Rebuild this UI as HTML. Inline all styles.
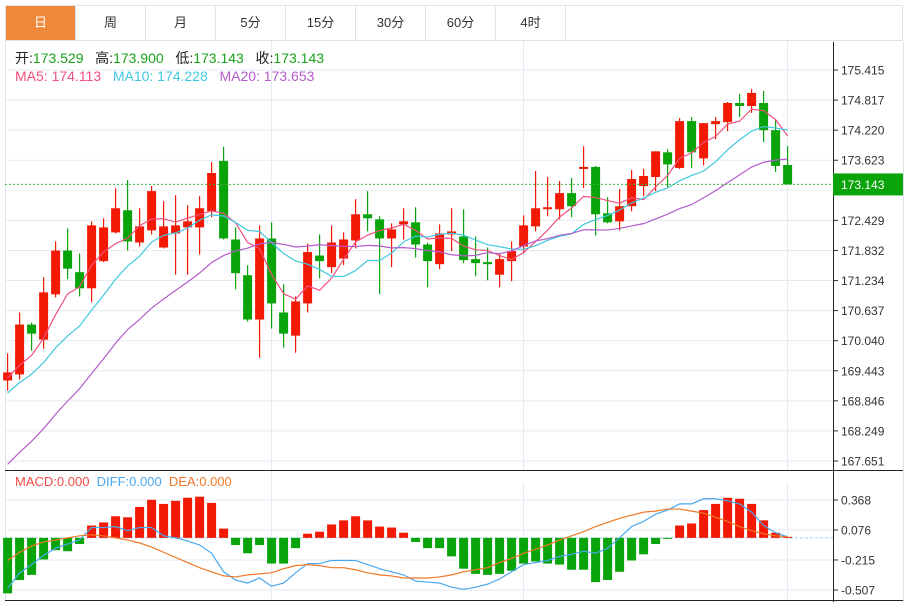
<!DOCTYPE html>
<html><head><meta charset="utf-8">
<style>
body{margin:0;background:#fff;width:908px;height:602px;overflow:hidden;font-family:"Liberation Sans","Noto Sans CJK SC",sans-serif;}
#tabs{position:absolute;left:5px;top:5px;height:36px;width:898px;border:1px solid #dde3ea;box-sizing:border-box;display:flex;}
.tab{width:70px;height:34px;line-height:34px;text-align:center;font-size:13px;color:#333;border-right:1px solid #dde3ea;box-sizing:border-box;}
.tab.on{background:#f0883a;color:#fff;}
svg{position:absolute;left:0;top:0;}
</style></head><body>
<div id="tabs">
<div class="tab on">日</div>
<div class="tab">周</div>
<div class="tab">月</div>
<div class="tab">5分</div>
<div class="tab">15分</div>
<div class="tab">30分</div>
<div class="tab">60分</div>
<div class="tab">4时</div>
</div>
<svg id="chart" width="908" height="602"></svg>
<script>
const opens=[169.25,169.37,170.36,170.06,170.96,171.83,171.40,171.08,171.62,172.19,172.63,171.99,172.23,171.89,172.17,172.29,172.29,172.61,173.61,172.05,171.34,170.46,172.07,170.60,170.14,170.78,171.73,171.50,171.67,172.03,172.55,172.45,172.07,172.35,172.39,171.95,171.56,172.15,172.11,171.66,171.60,171.35,171.62,171.91,172.31,172.65,172.65,172.97,173.45,173.49,172.57,172.41,172.71,173.11,173.29,173.78,173.47,174.40,173.66,174.34,174.38,174.76,174.70,174.76,174.22,173.529];
const highs=[169.79,170.60,170.40,171.30,172.01,172.27,171.77,172.41,172.47,173.07,173.23,172.67,173.11,172.81,172.93,172.73,172.91,173.59,173.89,172.29,171.54,172.33,172.39,171.16,170.92,171.97,172.15,172.33,172.19,172.85,173.01,172.51,172.37,172.67,172.69,171.99,172.35,172.67,172.65,172.11,171.89,171.77,172.01,172.53,173.41,173.29,173.21,173.27,173.90,173.51,172.89,173.05,173.43,173.45,173.80,173.84,174.46,174.48,174.36,174.48,174.78,174.94,175.04,175.00,174.42,173.900];
const lows=[169.05,169.27,169.84,169.88,170.90,171.26,170.92,170.80,171.60,172.17,171.83,171.91,172.15,171.87,171.35,171.35,171.75,172.49,172.05,171.06,170.42,169.70,170.28,169.90,169.80,170.60,171.28,171.38,171.54,171.87,172.21,170.96,171.50,172.05,171.69,171.10,171.46,171.82,171.58,171.32,171.24,171.10,171.22,171.77,172.21,172.51,172.45,172.49,173.07,172.13,172.37,172.23,172.61,172.91,173.01,173.09,173.45,173.47,173.52,174.04,174.20,174.48,174.56,173.98,173.39,173.143];
const closes=[169.41,170.36,170.18,171.00,171.83,171.47,171.08,172.33,172.29,172.67,172.01,172.31,173.01,172.31,172.33,172.41,172.67,173.37,172.07,171.38,170.46,172.07,170.78,170.18,170.82,171.80,171.62,171.99,172.05,172.55,172.47,172.07,172.25,172.41,171.95,171.62,172.17,172.21,171.64,171.58,171.56,171.66,171.82,172.33,172.67,172.69,172.97,172.71,173.49,172.55,172.39,172.71,173.25,173.31,173.80,173.54,174.40,173.78,174.36,174.40,174.76,174.70,174.96,174.22,173.51,173.143];
const priorCloses=[165.6,165.8,166.0,166.1,166.2,166.2,166.3,166.4,166.5,166.6,168.3,168.5,168.7,168.9,169.1,169.1,169.2,169.3,169.5];
const macdHist=[-0.54,-0.41,-0.36,-0.21,-0.12,-0.13,-0.06,0.12,0.15,0.21,0.20,0.30,0.37,0.33,0.36,0.39,0.40,0.34,0.09,-0.07,-0.15,-0.07,-0.25,-0.25,-0.10,0.04,0.06,0.13,0.17,0.21,0.17,0.11,0.10,0.05,-0.04,-0.10,-0.10,-0.18,-0.30,-0.35,-0.36,-0.35,-0.32,-0.25,-0.23,-0.25,-0.26,-0.31,-0.31,-0.43,-0.41,-0.33,-0.22,-0.16,-0.06,-0.01,0.12,0.14,0.27,0.33,0.39,0.38,0.33,0.17,0.05,0.01];
const diffLine=[-0.49,-0.34,-0.26,-0.17,-0.10,-0.06,-0.02,0.10,0.10,0.11,0.07,0.10,0.10,0.02,0.00,-0.03,-0.07,-0.15,-0.33,-0.41,-0.44,-0.39,-0.47,-0.44,-0.34,-0.25,-0.25,-0.22,-0.22,-0.22,-0.26,-0.30,-0.33,-0.36,-0.42,-0.43,-0.44,-0.48,-0.50,-0.48,-0.45,-0.40,-0.33,-0.26,-0.24,-0.22,-0.18,-0.16,-0.13,-0.15,-0.10,0.00,0.11,0.16,0.23,0.27,0.33,0.33,0.38,0.38,0.36,0.33,0.25,0.12,0.05,0.01];
const deaLine=[-0.22,-0.14,-0.08,-0.04,-0.02,0.00,0.02,0.03,0.02,0.00,-0.02,-0.05,-0.09,-0.14,-0.19,-0.24,-0.29,-0.33,-0.37,-0.38,-0.36,-0.35,-0.34,-0.30,-0.27,-0.26,-0.27,-0.29,-0.29,-0.31,-0.34,-0.36,-0.37,-0.39,-0.39,-0.39,-0.38,-0.36,-0.33,-0.31,-0.29,-0.24,-0.20,-0.15,-0.11,-0.07,-0.02,0.02,0.06,0.11,0.15,0.19,0.22,0.25,0.26,0.28,0.28,0.26,0.24,0.20,0.16,0.11,0.07,0.04,0.02,0.01];
const priceTicks=["175.415","174.817","174.220","173.623","173.026","172.429","171.832","171.234","170.637","170.040","169.443","168.846","168.249","167.651"];
const macdTicks=["0.368","0.076","-0.215","-0.507"];

const NS="http://www.w3.org/2000/svg";
const svg=document.getElementById('chart');
function mk(t,a,p){const e=document.createElementNS(NS,t);for(const k in a)e.setAttribute(k,a[k]);(p||svg).appendChild(e);return e;}
const PTOP=175.415,PBOT=167.651,YT=70,YB=461;
const py=p=>YT+(PTOP-p)/(PTOP-PBOT)*(YB-YT);
const MT=0.368,MB=-0.507,MYT=500,MYB=590;
const my=v=>MYT+(MT-v)/(MT-MB)*(MYB-MYT);
const cx=i=>7.6+12*i;
const RED="#f21a05",GRN="#08a40a";

mk('line',{x1:5.5,y1:41,x2:5.5,y2:602,stroke:'#dde3ea'});
mk('line',{x1:903.5,y1:41,x2:903.5,y2:602,stroke:'#dde3ea'});
[271.5,523.5,787.5].forEach(x=>{const l=mk('line',{x1:x,y1:41,x2:x,y2:600,stroke:'#e3eaf1'});});
priceTicks.forEach((t,i)=>{const y=py(+t);
 const g=mk('line',{x1:5,y1:y,x2:833,y2:y,stroke:'#e3eaf1'});
 
 mk('line',{x1:833,y1:y,x2:838,y2:y,stroke:'#333'});
 if(t!=="173.026"){const tx=mk('text',{x:841,y:y+4.5,'font-size':12,fill:'#333'});tx.textContent=t;
 }
});
macdTicks.forEach(t=>{const y=my(+t);
 mk('line',{x1:5,y1:y,x2:833,y2:y,stroke:'#e3eaf1'});
 mk('line',{x1:833,y1:y,x2:838,y2:y,stroke:'#333'});
 const tx=mk('text',{x:841,y:y+4.5,'font-size':12,fill:'#333'});tx.textContent=t;
 
});
mk('line',{x1:5,y1:470.5,x2:903,y2:470.5,stroke:'#222'});
mk('line',{x1:5,y1:600.5,x2:903,y2:600.5,stroke:'#222'});
mk('line',{x1:833.5,y1:42,x2:833.5,y2:602,stroke:'#222'});

closes.forEach((c,i)=>{const o=opens[i],up=c>=o,col=up?RED:GRN,x=cx(i);
 const w=mk('line',{x1:x,y1:py(highs[i]),x2:x,y2:py(lows[i]),stroke:col,'stroke-width':1.2});
 
 const yt=py(Math.max(o,c)),yb=py(Math.min(o,c));
 const r=mk('rect',{x:x-4.5,y:yt,width:9,height:Math.max(1.5,yb-yt),fill:col});
 
});
const all=priorCloses.concat(closes);
function ma(n){return closes.map((_,i)=>{const j=i+priorCloses.length;let s=0;for(let k=j-n+1;k<=j;k++)s+=all[k];return s/n;});}
[[5,'#f0507e','ma5-line'],[10,'#40c8e0','ma10-line'],[20,'#b45ccc','ma20-line']].forEach(([n,col,name])=>{
 const pts=ma(n).map((v,i)=>cx(i)+','+py(v)).join(' ');
 const l=mk('polyline',{points:pts,fill:'none',stroke:col,'stroke-width':1.2});
 
});
mk('rect',{x:0,y:471,width:833,height:12,fill:'#fff'});
mk('line',{x1:5.5,y1:471,x2:5.5,y2:483,stroke:'#dde3ea'});
mk('line',{x1:271.5,y1:471,x2:271.5,y2:483,stroke:'#e3eaf1'});
const cy=py(closes[closes.length-1]);
const cl=mk('line',{x1:5,y1:cy,x2:833,y2:cy,stroke:'#3cb43c','stroke-dasharray':'2,2'});

mk('rect',{x:833,y:cy-11,width:70,height:22,fill:GRN});
const cpt=mk('text',{x:841,y:cy+4.5,'font-size':12,fill:'#fff'});cpt.textContent=closes[closes.length-1].toFixed(3);


const z=my(0);
mk('line',{x1:5,y1:z,x2:833,y2:z,stroke:'#9fd3ee','stroke-dasharray':'3,2'});
macdHist.forEach((v,i)=>{const y=my(v);
 const r=mk('rect',{x:cx(i)-4.5,y:Math.min(y,z),width:9,height:Math.max(1,Math.abs(y-z)),fill:v>=0?RED:GRN});
 
});
const dl=mk('polyline',{points:diffLine.map((v,i)=>cx(i)+','+my(v)).join(' '),fill:'none',stroke:'#4aa8f0','stroke-width':1.2});

const el=mk('polyline',{points:deaLine.map((v,i)=>cx(i)+','+my(v)).join(' '),fill:'none',stroke:'#f07828','stroke-width':1.2});


function legend(x,y,fs,parts,name){const t=mk('text',{x:x,y:y,'font-size':fs});
 
 parts.forEach(([s,c])=>{const sp=mk('tspan',{fill:c},t);sp.textContent=s;});}
legend(15,63,14,[["开:","#222"],["173.529   ","#1aa31a"],["高:","#222"],["173.900   ","#1aa31a"],["低:","#222"],["173.143   ","#1aa31a"],["收:","#222"],["173.143","#1aa31a"]],'ohlc-legend');
legend(15,81,14,[["MA5: 174.113   ","#f0507e"],["MA10: 174.228   ","#40c8e0"],["MA20: 173.653","#b45ccc"]],'ma-legend');
legend(15,486,13,[["MACD:0.000  ","#f04a4a"],["DIFF:0.000  ","#4aa8f0"],["DEA:0.000","#f07828"]],'macd-legend');
svg.querySelectorAll('text').forEach(t=>t.setAttribute('style','white-space:pre'));
</script>
</body></html>
